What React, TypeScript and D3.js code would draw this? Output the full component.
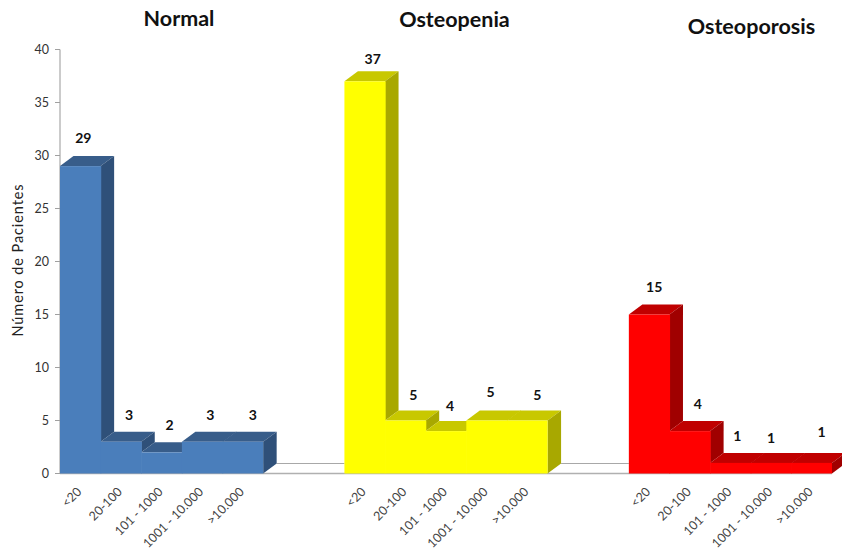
import React from "react";
import * as d3 from "d3";

const categories = ["<20", "20-100", "101 - 1000", "1001 - 10.000", ">10.000"];
const groupNames = ["Normal", "Osteopenia", "Osteoporosis"];
const normalValues = [29, 3, 2, 3, 3];
const osteopeniaValues = [37, 5, 4, 5, 5];
const osteoporosisValues = [15, 4, 1, 1, 1];
const yTicks = [0, 5, 10, 15, 20, 25, 30, 35, 40];

const FONT = "Lato, 'Open Sans', sans-serif";
const DX = 13.5;
const DY = -10;

const x = d3.scaleLinear().domain([0, 19]).range([60, 832]);
const y = d3.scaleLinear().domain([0, 40]).range([473.5, 49.5]);

const groups = [
  { name: groupNames[0], values: normalValues, start: 0, front: "#4a7ebb", top: "#385d8a", side: "#2f5079", titleX: 179, titleY: 26 },
  { name: groupNames[1], values: osteopeniaValues, start: 7, front: "#ffff00", top: "#c8c800", side: "#a8a800", titleX: 454.5, titleY: 27 },
  { name: groupNames[2], values: osteoporosisValues, start: 14, front: "#ff0000", top: "#c00000", side: "#a00000", titleX: 751.5, titleY: 34 },
];

// label placement offsets (px) relative to the bar's front-top centre
const labelNudge = [
  [[3, -23], [8, -22], [8, -22], [8, -22], [10, -22]],
  [[8, -17], [8, -20.5], [4, -20], [4, -23.5], [10, -20.5]],
  [[5, -23], [8, -22], [7, -22], [0, -20], [10, -26]],
];

const poly = (pts: [number, number][]) => pts.map((p) => p.join(",")).join(" ");

export default function App() {
  const backY = y(0) + DY;
  return (
    <svg width={842} height={552} style={{ position: "absolute", left: 0, top: 0, background: "#fff" }} fontFamily={FONT}>
      {/* floor lines */}
      <line x1={x(0)} x2={x(19)} y1={y(0)} y2={y(0)} stroke="#b0b0b0" strokeWidth={1.4} />
      <line x1={x(5) + DX} x2={x(7)} y1={backY} y2={backY} stroke="#a8a8a8" strokeWidth={1.2} />
      <line x1={x(12) + DX} x2={x(14)} y1={backY} y2={backY} stroke="#a8a8a8" strokeWidth={1.2} />

      {/* y axis */}
      <line x1={x(0)} x2={x(0)} y1={y(0)} y2={y(40)} stroke="#a8a8a8" strokeWidth={1.2} />
      {yTicks.map((t) => (
        <g key={t}>
          <line x1={x(0) - 5} x2={x(0)} y1={y(t)} y2={y(t)} stroke="#a0a0a0" strokeWidth={1} />
          <text x={x(0) - 11} y={y(t) + 4} textAnchor="end" fontSize={12.5} fill="#333">{t}</text>
        </g>
      ))}
      <text transform={`translate(23,260) rotate(-90)`} textAnchor="middle" fontSize={14.5} letterSpacing={0.9} fill="#222">Número de Pacientes</text>

      {groups.map((g, gi) => (
        <g key={g.name}>
          {g.values.map((v, i) => {
            const x0 = x(g.start + i);
            const x1 = x(g.start + i + 1);
            const yv = y(v);
            const next = i + 1 < g.values.length ? g.values[i + 1] : 0;
            const yn = y(next);
            const ov = i + 1 < g.values.length && next === v ? 0.6 : 0;
            return (
              <g key={i}>
                <polygon points={poly([[x0, yv], [x1 + ov, yv], [x1 + ov + DX, yv + DY], [x0 + DX, yv + DY]])} fill={g.top} />
                {next < v && (
                  <polygon points={poly([[x1, yv], [x1 + DX, yv + DY], [x1 + DX, yn + DY], [x1, yn]])} fill={g.side} />
                )}
              </g>
            );
          })}
          {g.values.map((v, i) => {
            const x0 = x(g.start + i);
            const x1 = x(g.start + i + 1);
            return <rect key={i} x={x0} y={y(v)} width={x1 - x0 + (i < 4 ? 0.6 : 0)} height={y(0) - y(v)} fill={g.front} />;
          })}
          {g.values.map((v, i) => {
            const cx = (x(g.start + i) + x(g.start + i + 1)) / 2;
            const [nx, ny] = labelNudge[gi][i];
            return (
              <text key={i} x={cx + nx} y={y(v) + ny} textAnchor="middle" fontSize={14} fontWeight={700} fill="#111">{v}</text>
            );
          })}
          {categories.map((c, i) => {
            const cx = (x(g.start + i) + x(g.start + i + 1)) / 2;
            return (
              <text key={c} transform={`translate(${cx + 2},${y(0) + 19}) rotate(-45)`} textAnchor="end" fontSize={12.5} fill="#444">{c}</text>
            );
          })}
          <text x={g.titleX} y={g.titleY} textAnchor="middle" fontSize={21.5} fontWeight={700} fill="#111">{g.name}</text>
        </g>
      ))}
    </svg>
  );
}
